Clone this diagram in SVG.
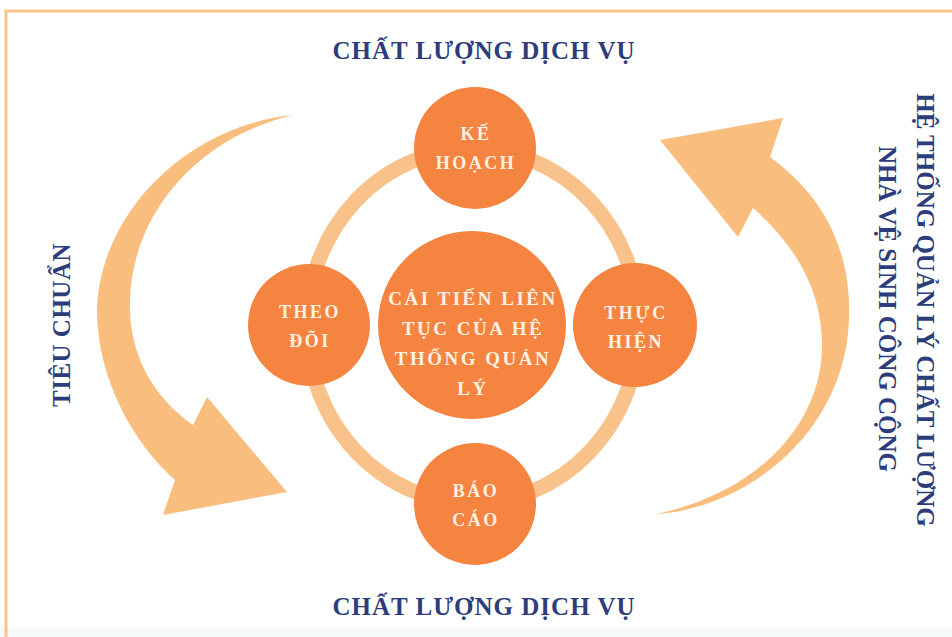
<svg xmlns="http://www.w3.org/2000/svg" width="952" height="637" viewBox="0 0 952 637">
<defs>
<style>
.title{font-family:"Liberation Serif","Times New Roman",serif;font-weight:bold;fill:#2d3d7c;font-size:25px;}
.node{fill:#f4843f;}
.lbl{font-family:"Liberation Serif","Times New Roman",serif;font-weight:bold;fill:#fdf1e4;font-size:18px;letter-spacing:2.5px;text-anchor:middle;}
.clbl{font-family:"Liberation Serif","Times New Roman",serif;font-weight:bold;fill:#fdf1e4;font-size:19px;letter-spacing:2.5px;text-anchor:middle;}
.arrow{fill:#f9be7d;}
</style>
</defs>
<rect x="0" y="0" width="952" height="637" fill="#ffffff"/>
<rect x="0" y="627" width="952" height="10" fill="#f5f9f9"/>
<path d="M 6 637 L 6 11 L 952 11" fill="none" stroke="#f9c48c" stroke-width="3"/>

<g id="connectors">
<ellipse cx="473" cy="326" rx="166" ry="177" fill="none" stroke="#f9c28a" stroke-width="15"/>
<path class="arrow" d="M 293 115 C 190 125 100 210 97 310 C 97 380 135 445 175 480 L 163 515 L 287 492 L 207 397 L 193 425 C 150 395 128 350 130 300 C 132 220 190 140 293 115 Z"/>
<path class="arrow" d="M 656 514 C 750 508 845 430 849 320 C 852 240 815 190 770 157 L 783 118 L 660 140 L 738 237 L 753 208 C 795 245 822 290 822 345 C 822 430 750 495 656 514 Z"/>
</g>

<g id="title-top"><text class="title" x="484" y="59" text-anchor="middle" letter-spacing="1">CHẤT LƯỢNG DỊCH VỤ</text></g>
<g id="title-bottom"><text class="title" x="484" y="615" text-anchor="middle" letter-spacing="1">CHẤT LƯỢNG DỊCH VỤ</text></g>
<g id="label-left"><text class="title" transform="translate(70,325) rotate(-90)" text-anchor="middle" letter-spacing="0.5">TIÊU CHUẨN</text></g>
<g id="label-right">
<text class="title" transform="translate(917,310) rotate(90)" text-anchor="middle">HỆ THỐNG QUẢN LÝ CHẤT LƯỢNG</text>
<text class="title" transform="translate(879,309) rotate(90)" text-anchor="middle">NHÀ VỆ SINH CÔNG CỘNG</text>
</g>

<g id="node-ke-hoach">
<circle class="node" cx="475" cy="148" r="61"/>
<text class="lbl" x="476" y="140">KẾ</text>
<text class="lbl" x="476" y="169">HOẠCH</text>
</g>
<g id="node-thuc-hien">
<circle class="node" cx="635" cy="325" r="62"/>
<text class="lbl" x="636" y="319">THỰC</text>
<text class="lbl" x="636" y="348">HIỆN</text>
</g>
<g id="node-bao-cao">
<circle class="node" cx="475" cy="504" r="61"/>
<text class="lbl" x="476" y="497">BÁO</text>
<text class="lbl" x="476" y="526">CÁO</text>
</g>
<g id="node-theo-doi">
<circle class="node" cx="309" cy="325" r="61"/>
<text class="lbl" x="310" y="318">THEO</text>
<text class="lbl" x="310" y="347">ĐÕI</text>
</g>
<g id="node-center">
<circle class="node" cx="472" cy="325" r="94"/>
<text class="clbl" x="473" y="305">CẢI TIẾN LIÊN</text>
<text class="clbl" x="473" y="335">TỤC CỦA HỆ</text>
<text class="clbl" x="473" y="365">THỐNG QUẢN</text>
<text class="clbl" x="473" y="395">LÝ</text>
</g>
</svg>
